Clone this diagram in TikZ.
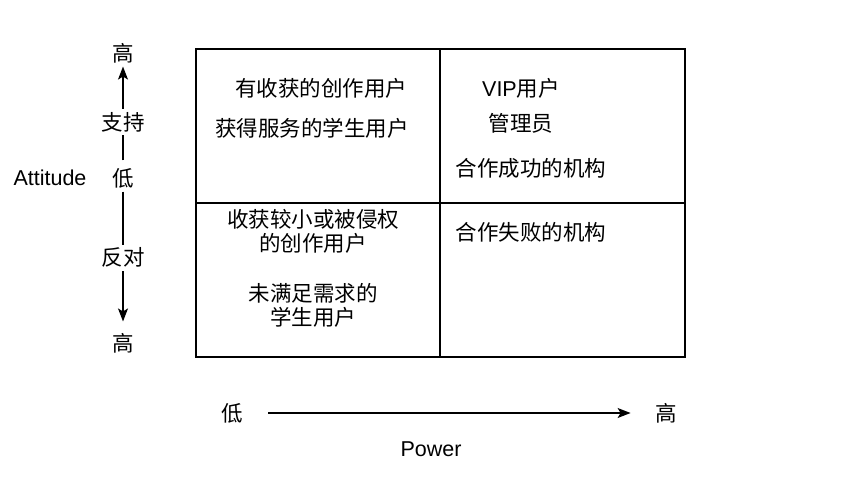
\documentclass[tikz,border=0pt]{standalone}
\usepackage{fontspec}
\setmainfont{Liberation Sans}
\newfontfamily\cjk{Noto Sans CJK SC}
\usetikzlibrary{positioning,arrows.meta}

\begin{document}
\begin{tikzpicture}[x=1pt,y=-1pt,>={Stealth[length=13pt,width=10pt,inset=3pt]},line width=1.3pt,
		every node/.style={font=\fontsize{21.5}{24}\selectfont,inner sep=3pt},
		zh/.style={font=\cjk\fontsize{21.5}{24}\selectfont,align=center}]
	\useasboundingbox (0,0) rectangle (844,480);

	% quadrant grid
	\draw (196,49) rectangle (685,357);
	\draw (440,49) -- (440,357);
	\draw (196,203) -- (685,203);

	% attitude axis
	\node (attitude) at (50,178) {Attitude};
	\node[zh] (attlow) at (123,178) {低};
	\node[zh] (atthightop) at (123,53) {高};
	\node[zh] (atthighbot) at (123,343) {高};
	\draw[->, shorten <=4pt] (attlow) -- node[zh, pos=0.43, fill=white]{支持} (atthightop);
	\draw[->, shorten >=8pt] (attlow) -- node[zh, pos=0.48, fill=white]{反对} (atthighbot);

	% power axis
	\node[zh] (powlow) at (232,413) {低};
	\node[zh] (powhigh) at (666,413) {高};
	\node (power) at (431,449) {Power};
	\draw[->, shorten <=22pt, shorten >=21pt] (powlow) -- (powhigh);

	% top left
	\node[zh] (creatorgain) at (321,88) {有收获的创作用户};
	\node[zh] (studentserved) at (312,128) {获得服务的学生用户};
	% top right
	\node (vip) at (521,88) {VIP{\cjk 用户}};
	\node[zh] (admin) at (521,123) {管理员};
	\node[zh] (orgsuccess) at (531,168) {合作成功的机构};
	% bottom left
	\node[zh] (creatorloss) at (313,231) {收获较小或被侵权\\的创作用户};
	\node[zh] (studentunmet) at (313,305) {未满足需求的\\学生用户};
	% bottom right
	\node[zh] (orgfail) at (531,232) {合作失败的机构};
\end{tikzpicture}
\end{document}
